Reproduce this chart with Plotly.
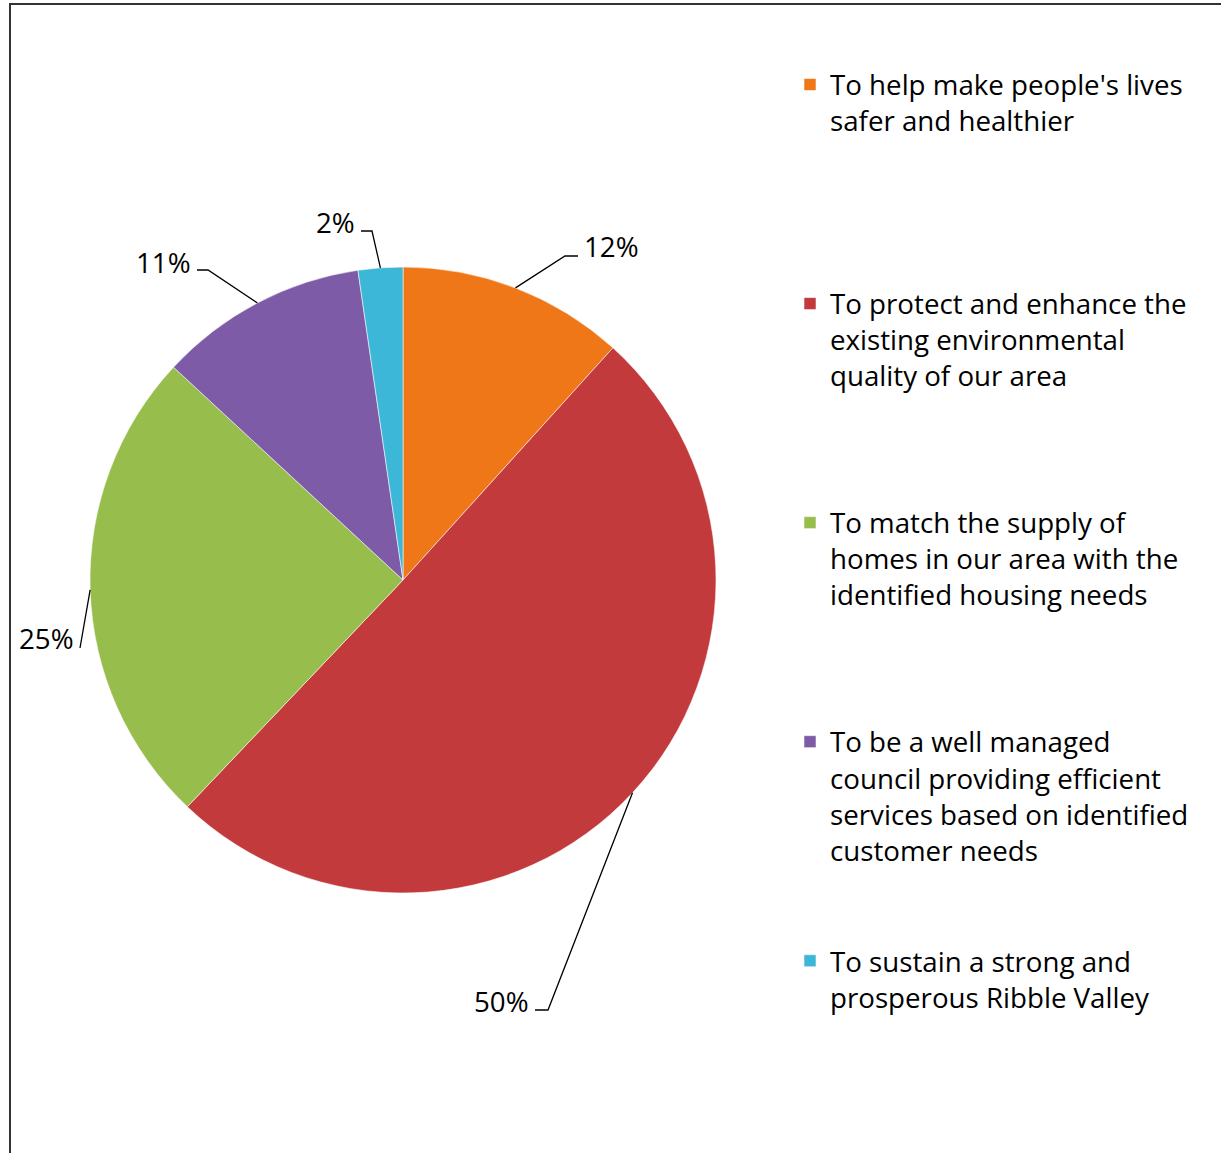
import math
import plotly.graph_objects as go

# ---- data ----
categories = [
    "To help make people's lives safer and healthier",
    "To protect and enhance the existing environmental quality of our area",
    "To match the supply of homes in our area with the identified housing needs",
    "To be a well managed council providing efficient services based on identified customer needs",
    "To sustain a strong and prosperous Ribble Valley",
]
legend_labels = [
    "To help make people's lives<br>safer and healthier",
    "To protect and enhance the<br>existing environmental<br>quality of our area",
    "To match the supply of<br>homes in our area with the<br>identified housing needs",
    "To be a well managed<br>council providing efficient<br>services based on identified<br>customer needs",
    "To sustain a strong and<br>prosperous Ribble Valley",
]
shares = [11.7, 50.4, 24.8, 10.8, 2.3]

# ---- style ----
colors = ["#EF7718", "#C23A3B", "#97BD4C", "#7D5BA6", "#3CB7D8"]
W, H = 1221, 1153
FONT = "Open Sans"
FS = 27.7
LINES_PER_ITEM = 6
# leader-line elbows / label anchors in pixels:
# (elbow_x, elbow_y, end_x, label_x, label_y, side)
label_style = [
    (565, 256, 578, 582, 246, "left"),
    (548, 1010, 535, 531, 1001, "right"),
    (80, 648, 80, 76, 638, "right"),
    (208, 270, 197, 193, 262, "right"),
    (372, 231, 361, 357, 222, "right"),
]

cx, cy, R = 403, 580, 313


def px(x):
    return x / W


def py(y):
    return 1 - y / H


def pad(txt, last):
    if last:
        return txt
    n = txt.count("<br>") + 1
    return txt + "<br>\u00a0" * (LINES_PER_ITEM - n)


fig = go.Figure(
    go.Pie(
        labels=[pad(t, i == len(legend_labels) - 1) for i, t in enumerate(legend_labels)],
        values=shares,
        sort=False,
        direction="clockwise",
        rotation=0,
        textinfo="none",
        hovertext=categories,
        hoverinfo="text+percent",
        marker=dict(colors=colors, line=dict(color="rgba(255,255,255,0.55)", width=1)),
        domain=dict(x=[px(cx - R), px(cx + R)], y=[py(cy + R), py(cy - R)]),
    )
)

total = sum(shares)
cum = 0
shapes = []
annotations = []
for v, st in zip(shares, label_style):
    mid = (cum + v / 2) / total * 2 * math.pi
    cum += v
    ax = cx + R * math.sin(mid)
    ay = cy - R * math.cos(mid)
    ex, ey, endx, lx, ly, side = st
    pts = [(ax, ay), (ex, ey), (endx, ey)]
    path = "M " + " L ".join(f"{px(x)},{py(y)}" for x, y in pts)
    shapes.append(dict(type="path", xref="paper", yref="paper", path=path,
                       line=dict(color="black", width=1.3)))
    annotations.append(dict(
        x=px(lx), y=py(ly), xref="paper", yref="paper",
        text=f"{round(v / total * 100)}%", showarrow=False,
        xanchor=side, yanchor="middle",
        font=dict(family=FONT, size=FS, color="black"),
    ))

# chart frame (extends beyond the visible window)
shapes.append(dict(type="rect", xref="paper", yref="paper",
                   x0=px(10), x1=1.05, y0=-0.05, y1=py(4),
                   line=dict(color="#333333", width=2)))

fig.update_layout(
    width=W, height=H,
    margin=dict(l=0, r=0, t=0, b=0),
    paper_bgcolor="white",
    plot_bgcolor="white",
    showlegend=True,
    legend=dict(
        x=px(790), y=py(60), xanchor="left", yanchor="top",
        font=dict(family=FONT, size=FS, color="black"),
        valign="top",
        bgcolor="rgba(0,0,0,0)",
        tracegroupgap=0,
    ),
    shapes=shapes,
    annotations=annotations,
)

fig.write_html(
    "out.html",
    config={"displayModeBar": False},
    post_script="document.body.style.margin='0';document.body.style.overflow='hidden';",
)
